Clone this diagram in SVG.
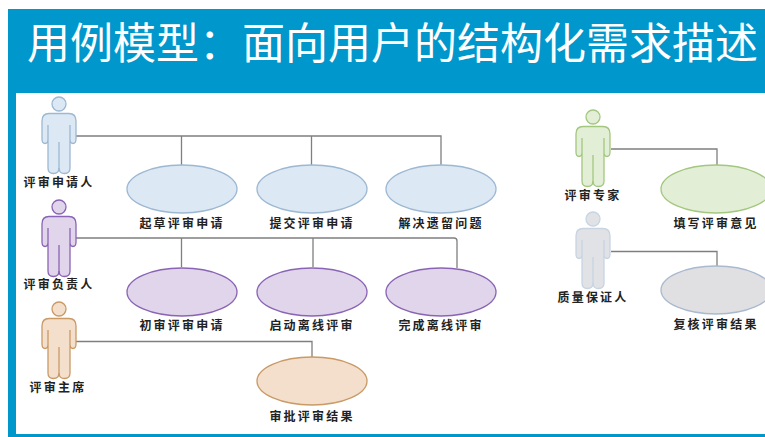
<svg xmlns="http://www.w3.org/2000/svg" width="765" height="437" viewBox="0 0 765 437">
<style>
text{font-family:"Noto Sans CJK SC","Liberation Sans",sans-serif}
.title{font-size:43px;fill:#fff;text-anchor:start}
.lb{font-size:12px;font-weight:700;fill:#222;text-anchor:middle;letter-spacing:2.2px}
.conn{fill:none;stroke:#7f7f7f;stroke-width:1.3}
.blue{fill:#dce8f4;stroke:#9db8d2}
.purple{fill:#e1d5ec;stroke:#8a64b4}
.orange{fill:#f3dfcc;stroke:#c99a66}
.green{fill:#e2efd6;stroke:#a3c77f}
.grey{fill:#e0e0e2;stroke:#a9b9cf}
.agrey{fill:#e0e2e6;stroke:#c8d4e2}
.el{stroke-width:1.3}
.ac{stroke-width:1.3}
.ln{fill:none}
</style>
<defs>
<g id="actor">
<circle cx="0" cy="0" r="7"/>
<path d="M-10,9.500H10Q17,9.500 17,17V35Q17,39.500 14,39.500Q11,39.500 11,35V21V64Q11,69.500 5.500,69.500Q0,69.500 0,64Q0,69.500 -5.500,69.500Q-11,69.500 -11,64V21V35Q-11,39.500 -14,39.500Q-17,39.500 -17,35V17Q-17,9.500 -10,9.500Z"/>
<path class="ln" d="M0,38V66"/>
</g>
</defs>
<rect x="8" y="9" width="757" height="428" fill="#0097cd"/>
<rect x="16" y="93" width="749" height="341" fill="#fff"/>
<text class="title" x="27" y="59">用例模型&#xFF1A;面向用户的结构化需求描述</text>
<g id="connectors">
<path class="conn" d="M76,136H441V165M181.500,136V165M311.500,136V165"/>
<path class="conn" d="M76,238H454Q457,238 457,241V268M181.500,238V267M313,238V267"/>
<path class="conn" d="M76,341.500H312V358"/>
<path class="conn" d="M611,149H717V165"/>
<path class="conn" d="M611,251.500H717V267"/>
</g>
<g id="actor-applicant"><use href="#actor" x="59" y="104" class="blue ac"/><text class="lb" x="59" y="187">评审申请人</text></g>
<g id="actor-owner"><use href="#actor" x="59" y="207" class="purple ac"/><text class="lb" x="59" y="289">评审负责人</text></g>
<g id="actor-chair"><use href="#actor" x="59" y="309" class="orange ac"/><text class="lb" x="58" y="392">评审主席</text></g>
<g id="actor-expert"><use href="#actor" x="593" y="117" class="green ac"/><text class="lb" x="593" y="200">评审专家</text></g>
<g id="actor-qa"><use href="#actor" x="593" y="219" class="agrey ac"/><text class="lb" x="593" y="302">质量保证人</text></g>
<g id="uc-draft"><ellipse class="blue el" cx="182" cy="189" rx="55" ry="24"/><text class="lb" x="182" y="228">起草评审申请</text></g>
<g id="uc-submit"><ellipse class="blue el" cx="312" cy="189" rx="55" ry="24"/><text class="lb" x="312" y="228">提交评审申请</text></g>
<g id="uc-resolve"><ellipse class="blue el" cx="441" cy="189" rx="55" ry="24"/><text class="lb" x="441" y="228">解决遗留问题</text></g>
<g id="uc-initial"><ellipse class="purple el" cx="182" cy="292" rx="55" ry="24"/><text class="lb" x="182" y="330">初审评审申请</text></g>
<g id="uc-start"><ellipse class="purple el" cx="312" cy="292" rx="55" ry="24"/><text class="lb" x="312" y="330">启动离线评审</text></g>
<g id="uc-finish"><ellipse class="purple el" cx="441" cy="292" rx="55" ry="24"/><text class="lb" x="441" y="330">完成离线评审</text></g>
<g id="uc-approve"><ellipse class="orange el" cx="312" cy="381" rx="55" ry="24"/><text class="lb" x="312" y="421">审批评审结果</text></g>
<g id="uc-fill"><ellipse class="green el" cx="716" cy="189" rx="55" ry="24"/><text class="lb" x="716" y="228">填写评审意见</text></g>
<g id="uc-recheck"><ellipse class="grey el" cx="716" cy="290" rx="55" ry="24"/><text class="lb" x="716" y="329">复核评审结果</text></g>
</svg>
